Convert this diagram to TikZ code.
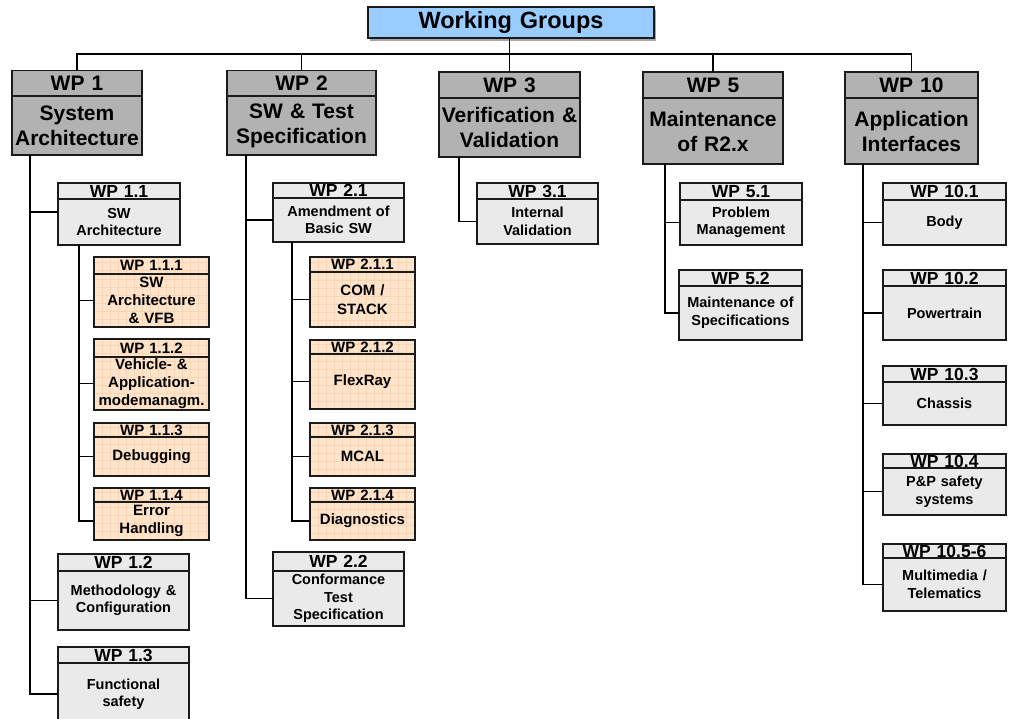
\documentclass[tikz,border=0pt]{standalone}
\usepackage{fontspec}
\setmainfont{Liberation Sans}
\usepackage{tikz}
\usetikzlibrary{positioning,shadows}

\definecolor{wgblue}{HTML}{99CCFF}
\definecolor{wpgray}{HTML}{B2B2B2}
\definecolor{wplight}{HTML}{EAEAEA}
\definecolor{wporange}{HTML}{FDE4CB}
\definecolor{wpgrid}{HTML}{F8D5B4}
\definecolor{wpline}{HTML}{1A1A1A}

\tikzset{
  wpbase/.style={draw=wpline, line width=1.2pt, inner sep=0pt, outer sep=0pt, align=center, text=black},
  wpsize/.style 2 args={minimum width=#1pt, text width=#1pt, minimum height=#2pt},
  wpone/.style={wpbase, fill=wpgray, font=\fontsize{21}{25}\selectfont\bfseries},
  wptwohead/.style={wpbase, fill=wplight, font=\fontsize{17.5}{20}\selectfont\bfseries},
  wptwo/.style={wpbase, fill=wplight, font=\fontsize{14.5}{17.5}\selectfont\bfseries},
  wpgridded/.style={wpbase, fill=wporange, path picture={\draw[wpgrid, line width=0.4pt] (path picture bounding box.south west) grid[step=8pt] (path picture bounding box.north east);}},
  wpthreehead/.style={wpgridded, font=\fontsize{15}{17}\selectfont\bfseries},
  wpthree/.style={wpgridded, font=\fontsize{15}{18.3}\selectfont\bfseries},
  link/.style={draw=black, line width=1.3pt}
}

\begin{document}
\begin{tikzpicture}[x=1pt, y=-1pt]
\useasboundingbox[fill=white] (0,0) rectangle (1009,719);
\node[wpbase, fill=wgblue, wpsize={286}{31}, font=\fontsize{23.5}{26}\selectfont\bfseries,
  drop shadow={shadow xshift=2pt, shadow yshift=-3pt, fill=gray!70, opacity=1}] (title) at (511,22.5) {Working Groups};

% work packages
\node[wpone, wpsize={130}{25.5}] (wp1h) at (77,83.25) {WP 1};
\node[wpone, wpsize={130}{59}, below=0pt of wp1h] (wp1) {System\\Architecture};
\node[wpone, wpsize={149}{25.5}] (wp2h) at (301.5,83.25) {WP 2};
\node[wpone, wpsize={149}{59}, below=0pt of wp2h] (wp2) {SW \& Test\\Specification};
\node[wpone, wpsize={141}{26}] (wp3h) at (509.5,85) {WP 3};
\node[wpone, wpsize={141}{59}, below=0pt of wp3h] (wp3) {Verification \&\\Validation};
\node[wpone, wpsize={140}{26}] (wp5h) at (713,85) {WP 5};
\node[wpone, wpsize={140}{66}, below=0pt of wp5h] (wp5) {Maintenance\\of R2.x};
\node[wpone, wpsize={133}{26}] (wp10h) at (911.5,85) {WP 10};
\node[wpone, wpsize={133}{66}, below=0pt of wp10h] (wp10) {Application\\Interfaces};

\node[wptwohead, wpsize={122}{16}] (wp11h) at (119,191) {WP 1.1};
\node[wptwo, wpsize={122}{46}, below=0pt of wp11h] (wp11) {SW\\Architecture};
\node[wptwohead, wpsize={131}{17}] (wp12h) at (123.5,562.5) {WP 1.2};
\node[wptwo, wpsize={131}{59}, below=0pt of wp12h] (wp12) {Methodology \&\\Configuration};
\node[wptwohead, wpsize={131}{16}] (wp13h) at (123.5,655) {WP 1.3};
\node[wptwo, wpsize={131}{62}, below=0pt of wp13h] (wp13) {Functional\\safety};

\node[wpthreehead, wpsize={115}{17}] (wp111h) at (151.5,265.5) {WP 1.1.1};
\node[wpthree, wpsize={115}{53}, below=0pt of wp111h] (wp111) {SW\\Architecture\\\& VFB};
\node[wpthreehead, wpsize={115}{18}] (wp112h) at (151.5,348) {WP 1.1.2};
\node[wpthree, wpsize={115}{53}, below=0pt of wp112h] (wp112) {Vehicle- \&\\Application-\\modemanagm.};
\node[wpthreehead, wpsize={115}{14}] (wp113h) at (151.5,430) {WP 1.1.3};
\node[wpthree, wpsize={115}{39}, below=0pt of wp113h] (wp113) {Debugging};
\node[wpthreehead, wpsize={115}{14}] (wp114h) at (151.5,495) {WP 1.1.4};
\node[wpthree, wpsize={115}{38}, below=0pt of wp114h] (wp114) {Error\\Handling};

\node[wptwohead, wpsize={131}{15}] (wp21h) at (338.5,190.5) {WP 2.1};
\node[wptwo, wpsize={131}{44}, below=0pt of wp21h] (wp21) {Amendment of\\Basic SW};
\node[wptwohead, wpsize={131}{19}] (wp22h) at (338.5,561.5) {WP 2.2};
\node[wptwo, wpsize={131}{55}, below=0pt of wp22h] (wp22) {Conformance\\Test\\Specification};

\node[wpthreehead, wpsize={105}{15}] (wp211h) at (362.5,264.5) {WP 2.1.1};
\node[wpthree, wpsize={105}{55}, below=0pt of wp211h] (wp211) {COM /\\STACK};
\node[wpthreehead, wpsize={105}{14}] (wp212h) at (362.5,347) {WP 2.1.2};
\node[wpthree, wpsize={105}{55}, below=0pt of wp212h] (wp212) {FlexRay};
\node[wpthreehead, wpsize={105}{14}] (wp213h) at (362.5,430) {WP 2.1.3};
\node[wpthree, wpsize={105}{39}, below=0pt of wp213h] (wp213) {MCAL};
\node[wpthreehead, wpsize={105}{14}] (wp214h) at (362.5,495) {WP 2.1.4};
\node[wpthree, wpsize={105}{38}, below=0pt of wp214h] (wp214) {Diagnostics};

\node[wptwohead, wpsize={121}{16}] (wp31h) at (537.5,191) {WP 3.1};
\node[wptwo, wpsize={121}{45}, below=0pt of wp31h] (wp31) {Internal\\Validation};

\node[wptwohead, wpsize={122}{17}] (wp51h) at (741,191.5) {WP 5.1};
\node[wptwo, wpsize={122}{45}, below=0pt of wp51h] (wp51) {Problem\\Management};
\node[wptwohead, wpsize={123}{16}] (wp52h) at (740.5,278) {WP 5.2};
\node[wptwo, wpsize={123}{54}, below=0pt of wp52h] (wp52) {Maintenance of\\Specifications};

\node[wptwohead, wpsize={123}{17}] (wp101h) at (944.5,191.5) {WP 10.1};
\node[wptwo, wpsize={123}{45}, below=0pt of wp101h] (wp101) {Body};
\node[wptwohead, wpsize={123}{16}] (wp102h) at (944.5,278) {WP 10.2};
\node[wptwo, wpsize={123}{54}, below=0pt of wp102h] (wp102) {Powertrain};
\node[wptwohead, wpsize={123}{16}] (wp103h) at (944.5,374) {WP 10.3};
\node[wptwo, wpsize={123}{43}, below=0pt of wp103h] (wp103) {Chassis};
\node[wptwohead, wpsize={123}{14}] (wp104h) at (944.5,461) {WP 10.4};
\node[wptwo, wpsize={123}{47}, below=0pt of wp104h] (wp104) {P\&P safety\\systems};
\node[wptwohead, wpsize={123}{14}] (wp1056h) at (944.5,551) {WP 10.5-6};
\node[wptwo, wpsize={123}{53}, below=0pt of wp1056h] (wp1056) {Multimedia /\\Telematics};

% connectors
\coordinate (bus) at (509.5,54);
\draw[link] (wp1h.north) |- (bus) -| (wp10h.north);
\draw[link] (bus |- title.south) -- (wp3h.north);
\draw[link] (wp2h.north) -- (wp2h.north |- bus);
\draw[link] (wp5h.north) -- (wp5h.north |- bus);

\draw[link] ([xshift=18pt]wp1.south west) coordinate (t1) |- (wp13.west);
\draw[link] (t1) |- ([yshift=10pt]wp11.west);
\draw[link] (t1) |- (wp12.west);
\draw[link] ([xshift=21pt]wp11.south west) coordinate (t11) |- (wp114.west);
\draw[link] (t11) |- (wp111.west);
\draw[link] (t11) |- (wp112.west);
\draw[link] (t11) |- (wp113.west);

\draw[link] ([xshift=19pt]wp2.south west) coordinate (t2) |- (wp22.west);
\draw[link] (t2) |- (wp21.west);
\draw[link] ([xshift=19pt]wp21.south west) coordinate (t21) |- (wp214.west);
\draw[link] (t21) |- (wp211.west);
\draw[link] (t21) |- (wp212.west);
\draw[link] (t21) |- (wp213.west);

\draw[link] ([xshift=20pt]wp3.south west) |- (wp31.west);
\draw[link] ([xshift=22pt]wp5.south west) coordinate (t5) |- (wp52.west);
\draw[link] (t5) |- (wp51.west);

\draw[link] ([xshift=18pt]wp10.south west) coordinate (t10) |- (wp1056.west);
\draw[link] (t10) |- (wp101.west);
\draw[link] (t10) |- (wp102.west);
\draw[link] (t10) |- (wp103.west);
\draw[link] (t10) |- (wp104.west);
\end{tikzpicture}
\end{document}
